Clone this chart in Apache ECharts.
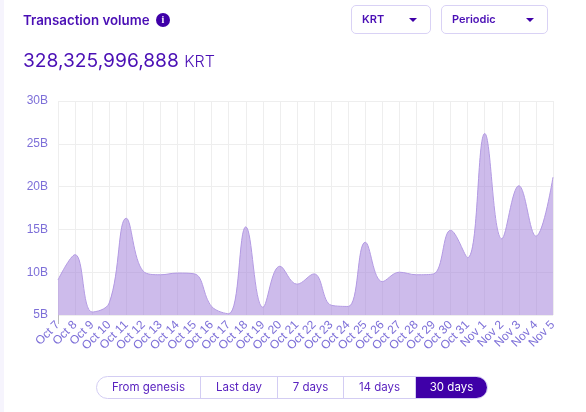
<!DOCTYPE html>
<html lang="en">
<head>
    <meta charset="UTF-8">
    <title>Transaction volume</title>
    <script src="https://cdn.jsdelivr.net/npm/echarts@6/dist/echarts.min.js"></script>
    <style>
        html, body { margin: 0; padding: 0; background: #f6f4fd; }
        body { font-family: "Inter", "Lato", sans-serif; color: #4a0fb5; }
        #card { position: absolute; left: 4px; top: 0; width: 582px; height: 412px; background: #fff; }
        #main { position: absolute; left: 0; top: 0; width: 586px; height: 412px; }
        .abs { position: absolute; white-space: nowrap; }
        #title { left: 23px; top: 12px; font-size: 13.3px; font-weight: 600; line-height: 16px; }
        #info { left: 156px; top: 13px; width: 14px; height: 14px; border-radius: 50%; background: #3f00a8; color: #fff;
                font: bold 10px/14px "Liberation Serif", serif; text-align: center; }
        #total { left: 23px; top: 48px; font-size: 19.2px; line-height: 24px; }
        #total span { font-size: 16px; font-weight: 300; margin-left: 0; }
        .select { top: 5px; height: 29px; box-sizing: border-box; border: 1px solid #d9d2f5; border-radius: 5px;
                  font-size: 11px; font-weight: 600; line-height: 27px; padding-left: 10px; }
        .select i { position: absolute; right: 13px; top: 12px; border: 4px solid transparent; border-top: 4px solid #3f00a8; border-bottom: 0; }
        #range { left: 96px; top: 376px; height: 23px; display: flex; box-sizing: border-box; border: 1px solid #d3cdf3; border-radius: 12px; overflow: hidden; }
        #range div { height: 21px; line-height: 21px; text-align: center; font-size: 11.5px; box-sizing: border-box; border-right: 1px solid #d3cdf3; color: #5a23c0; }
        #range div.on { background: #3f00a8; color: #fff; border-right: 0; }
    </style>
</head>
<body>
<div id="card"></div>
<div id="main"></div>
<div class="abs" id="title">Transaction volume</div>
<div class="abs" id="info">i</div>
<div class="abs select" style="left:351px;width:80px">KRT<i></i></div>
<div class="abs select" style="left:441px;width:107px">Periodic<i></i></div>
<div class="abs" id="total">328,325,996,888 <span>KRT</span></div>
<div class="abs" id="range">
    <div style="width:104px">From genesis</div>
    <div style="width:77px">Last day</div>
    <div style="width:66px">7 days</div>
    <div style="width:72px">14 days</div>
    <div class="on" style="width:71px">30 days</div>
</div>

<script type="text/javascript">
    var days = ['Oct 7', 'Oct 8', 'Oct 9', 'Oct 10', 'Oct 11', 'Oct 12', 'Oct 13', 'Oct 14', 'Oct 15', 'Oct 16',
        'Oct 17', 'Oct 18', 'Oct 19', 'Oct 20', 'Oct 21', 'Oct 22', 'Oct 23', 'Oct 24', 'Oct 25', 'Oct 26',
        'Oct 27', 'Oct 28', 'Oct 29', 'Oct 30', 'Oct 31', 'Nov 1', 'Nov 2', 'Nov 3', 'Nov 4', 'Nov 5'];
    // volume in billions of KRT
    var volume = [9.1, 12.05, 5.35, 6.4, 16.3, 10.1, 9.7, 9.9, 9.8, 6.0,
        5.15, 15.3, 5.9, 10.7, 8.6, 9.8, 6.15, 6.0, 13.5, 8.9,
        10.0, 9.7, 9.8, 14.9, 11.7, 26.2, 13.9, 20.1, 14.2, 21.1];

    var myChart = echarts.init(document.getElementById('main'));

    var option = {
        animation: false,
        grid: { left: 58, right: 33, top: 101, bottom: 97 },
        xAxis: {
            type: 'category',
            boundaryGap: false,
            data: days,
            axisLine: { show: false },
            axisTick: {
                show: true,
                length: 9,
                interval: function (i) { return i === 0; },
                lineStyle: { color: '#bdbdbd' }
            },
            axisLabel: {
                interval: 0,
                rotate: 45,
                margin: 8,
                color: '#7d6fd8',
                fontFamily: 'Liberation Sans',
                fontSize: 12
            },
            splitLine: { show: true, lineStyle: { color: '#eeeeee', width: 1 } }
        },
        yAxis: {
            type: 'value',
            min: 5,
            max: 30,
            interval: 5,
            axisLine: { show: false },
            axisTick: { show: false },
            axisLabel: {
                formatter: '{value}B',
                margin: 10,
                color: '#7d6fd8',
                fontFamily: 'Liberation Sans',
                fontSize: 12
            },
            splitLine: { lineStyle: { color: '#eeeeee', width: 1 } }
        },
        series: [{
            name: 'Transaction volume',
            type: 'line',
            data: volume,
            smooth: 0.4,
            symbol: 'none',
            lineStyle: { color: '#b39ae3', width: 1 },
            areaStyle: { color: 'rgba(164,131,219,0.55)', opacity: 1 }
        }]
    };
    myChart.setOption(option);
</script>
</body>
</html>
